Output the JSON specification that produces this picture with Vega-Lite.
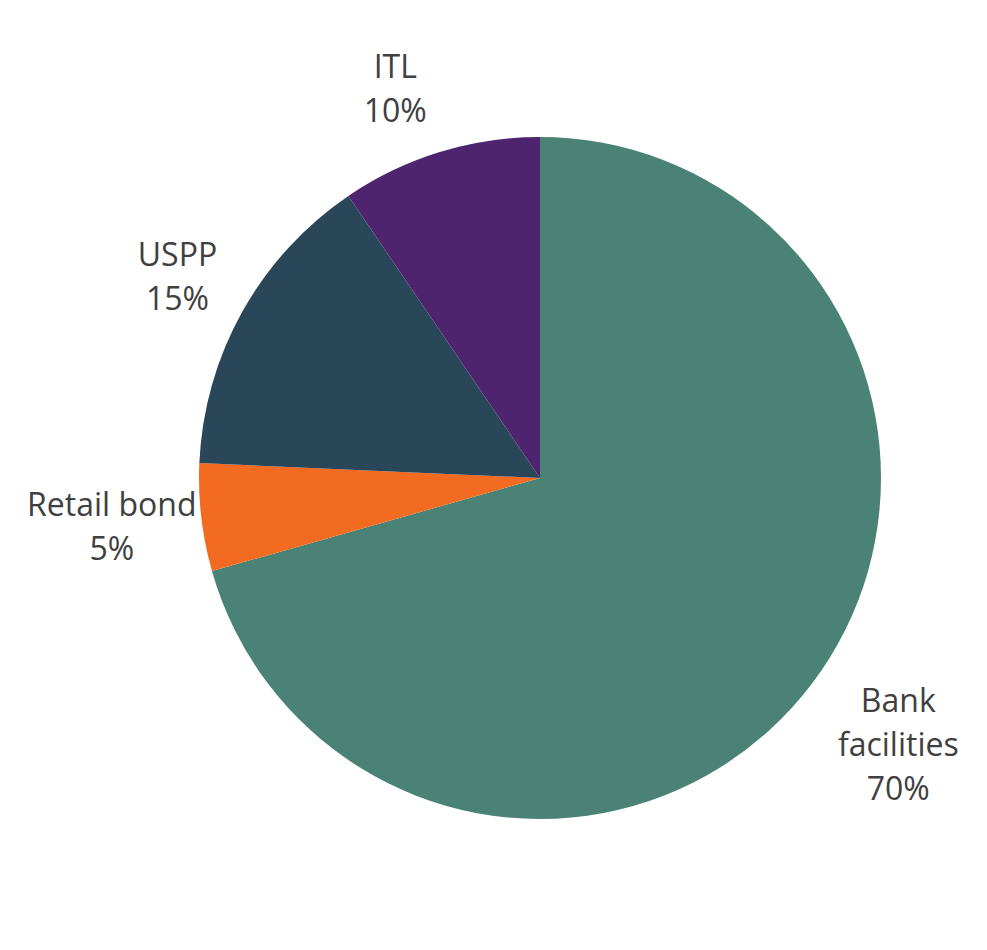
{
  "$schema": "https://vega.github.io/schema/vega-lite/v6.json",
  "width": 894,
  "height": 944,
  "autosize": "none",
  "padding": {"left": 93, "top": 6, "right": 0, "bottom": 0},
  "background": "white",
  "view": {"stroke": null},
  "data": {
    "values": [
      {"category": "Bank facilities", "value": 70.6, "order": 1, "label": "Bank\nfacilities\n70%"},
      {"category": "Retail bond", "value": 5.1, "order": 2, "label": "Retail bond\n5%"},
      {"category": "USPP", "value": 14.8, "order": 3, "label": "USPP\n15%"},
      {"category": "ITL", "value": 9.5, "order": 4, "label": "ITL\n10%"}
    ]
  },
  "encoding": {
    "theta": {"field": "value", "type": "quantitative", "stack": true},
    "order": {"field": "order", "type": "ordinal"}
  },
  "layer": [
    {
      "mark": {"type": "arc", "outerRadius": 341},
      "encoding": {
        "color": {
          "field": "category",
          "type": "nominal",
          "scale": {
            "domain": ["Bank facilities", "Retail bond", "USPP", "ITL"],
            "range": ["#4A8375", "#F26B21", "#2A4659", "#4E246F"]
          },
          "legend": null
        }
      }
    },
    {
      "mark": {"type": "text", "font": "Open Sans", "fontSize": 32, "lineHeight": 44, "lineBreak": "\n", "color": "#404040", "align": "center", "baseline": "middle", "dx": 28, "dy": -26},
      "encoding": {
        "text": {"condition": {"test": "datum.category === 'Bank facilities'", "field": "label"}, "value": ""},
        "radius": {"value": 414}
      }
    },
    {
      "mark": {"type": "text", "font": "Open Sans", "fontSize": 32, "lineHeight": 44, "lineBreak": "\n", "color": "#404040", "align": "center", "baseline": "middle", "dx": -17, "dy": -20},
      "encoding": {
        "text": {"condition": {"test": "datum.category === 'Retail bond'", "field": "label"}, "value": ""},
        "radius": {"value": 414}
      }
    },
    {
      "mark": {"type": "text", "font": "Open Sans", "fontSize": 32, "lineHeight": 44, "lineBreak": "\n", "color": "#404040", "align": "center", "baseline": "middle", "dx": -1, "dy": -20},
      "encoding": {
        "text": {"condition": {"test": "datum.category === 'USPP'", "field": "label"}, "value": ""},
        "radius": {"value": 414}
      }
    },
    {
      "mark": {"type": "text", "font": "Open Sans", "fontSize": 32, "lineHeight": 44, "lineBreak": "\n", "color": "#404040", "align": "center", "baseline": "middle", "dx": -23, "dy": -14},
      "encoding": {
        "text": {"condition": {"test": "datum.category === 'ITL'", "field": "label"}, "value": ""},
        "radius": {"value": 414}
      }
    }
  ]
}
